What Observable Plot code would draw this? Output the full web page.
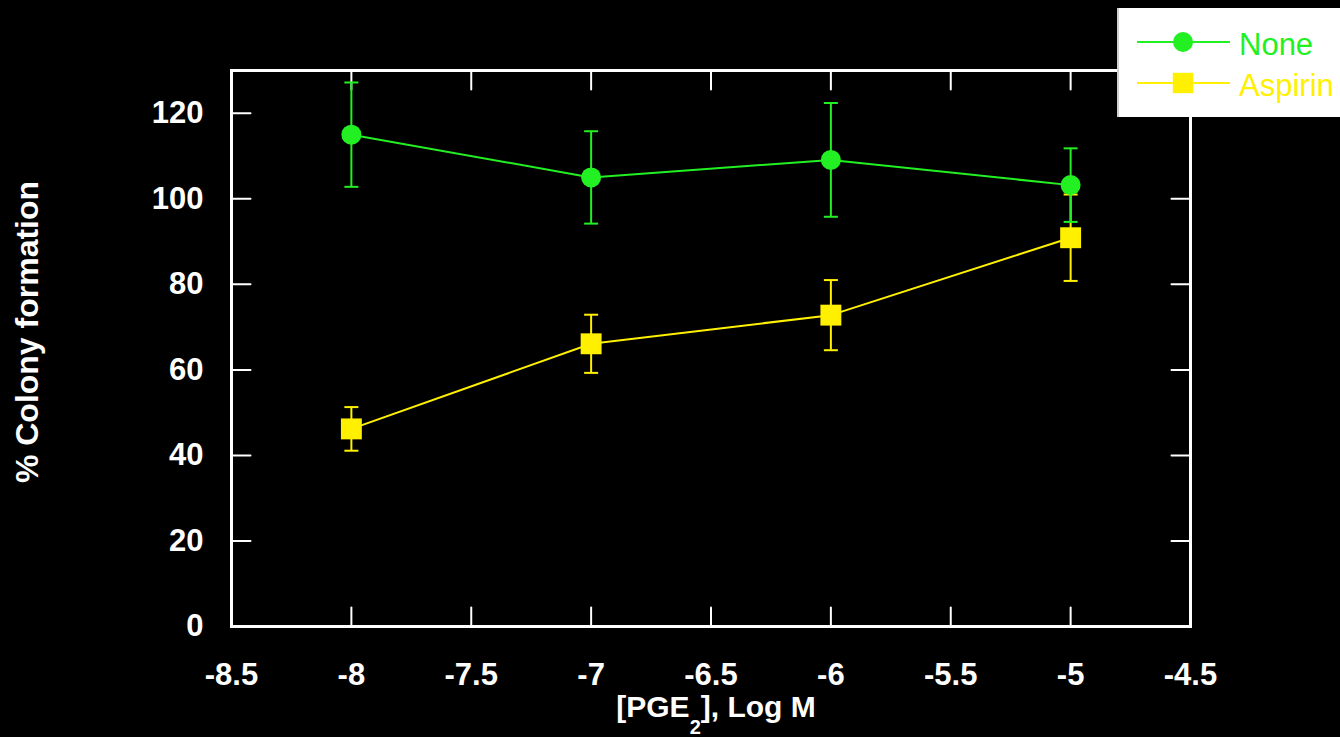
<!DOCTYPE html>
<html><head><meta charset="utf-8">
<script src="https://cdn.jsdelivr.net/npm/d3@7"></script>
<script src="https://cdn.jsdelivr.net/npm/@observablehq/plot@0.6"></script>
<style>
html,body{margin:0;padding:0;background:#000;}
#wrap{position:relative;width:1340px;height:737px;overflow:hidden;background:#000;}
#legend{position:absolute;left:1117px;top:8px;width:223px;height:109px;background:#fff;border-left:2px solid #d0d0d0;box-sizing:border-box;}
</style></head><body><div id="wrap"></div>
<script>
const doses = [-8, -7, -6, -5];
const noneMean = [115, 105, 109.1, 103.2];
const noneErr = [12.2, 10.8, 13.3, 8.6];
const aspirinMean = [46.2, 66.1, 72.8, 90.9];
const aspirinErr = [5.1, 6.8, 8.2, 10.1];
const xTicks = [-8.5, -8, -7.5, -7, -6.5, -6, -5.5, -5, -4.5];
const yTicks = [0, 20, 40, 60, 80, 100, 120];
const seriesNames = ["None", "Aspirin"];
const seriesColors = ["#22f022", "#fff000"];
const xLabelMain = "[PGE";
const xLabelSub = "2";
const xLabelRest = "], Log M";
const yLabel = "% Colony formation";

const makeRows = (name, means, errs) => doses.map((d, i) => ({series: name, x: d, y: means[i], lo: means[i] - errs[i], hi: means[i] + errs[i]}));
const noneRows = makeRows(seriesNames[0], noneMean, noneErr);
const aspRows = makeRows(seriesNames[1], aspirinMean, aspirinErr);
const green = seriesColors[0], yellow = seriesColors[1];

const capSymbol = {draw(ctx, size) { const r = Math.sqrt(size / Math.PI); ctx.moveTo(-r, 0); ctx.lineTo(r, 0); }};
const tickShape = {draw(ctx, l) { ctx.moveTo(0, 0); ctx.lineTo(0, -l); }};
const font = "'Liberation Sans', Arial, Helvetica, sans-serif";

function seriesMarks(rows, color, symbol, r) {
  return [
    Plot.line(rows, {x: "x", y: "y", stroke: color, strokeWidth: 2}),
    Plot.ruleX(rows, {x: "x", y1: "lo", y2: "hi", stroke: color, strokeWidth: 2}),
    Plot.dot(rows, {x: "x", y: "hi", symbol: capSymbol, r: 7, stroke: color, strokeWidth: 2, fill: "none"}),
    Plot.dot(rows, {x: "x", y: "lo", symbol: capSymbol, r: 7, stroke: color, strokeWidth: 2, fill: "none"}),
    Plot.dot(rows, {x: "x", y: "y", symbol, r, fill: color, stroke: "none"})
  ];
}

const chart = Plot.plot({
  width: 1340, height: 737,
  marginLeft: 231, marginRight: 150, marginTop: 70, marginBottom: 111,
  style: {background: "#000", color: "#fff", fontFamily: font, fontWeight: "bold", fontSize: "31px", overflow: "visible"},
  x: {domain: [-8.5, -4.5]},
  y: {domain: [0, 130]},
  marks: [
    Plot.frame({stroke: "#fff", strokeWidth: 3}),
    Plot.vector(xTicks, {x: d => d, frameAnchor: "bottom", anchor: "start", length: 19, rotate: 0, shape: tickShape, stroke: "#fff", strokeWidth: 2}),
    Plot.vector(xTicks, {x: d => d, frameAnchor: "top", anchor: "start", length: 19, rotate: 180, shape: tickShape, stroke: "#fff", strokeWidth: 2}),
    Plot.vector(yTicks, {y: d => d, frameAnchor: "left", anchor: "start", length: 19, rotate: 90, shape: tickShape, stroke: "#fff", strokeWidth: 2}),
    Plot.vector(yTicks, {y: d => d, frameAnchor: "right", anchor: "start", length: 19, rotate: -90, shape: tickShape, stroke: "#fff", strokeWidth: 2}),
    Plot.axisX(xTicks, {anchor: "bottom", tickSize: 0, tickPadding: 36, tickFormat: d => String(d), label: null, fontSize: 31, fill: "#fff"}),
    Plot.axisY(yTicks, {anchor: "left", tickSize: 0, tickPadding: 28, tickFormat: d => String(d), label: null, fontSize: 31, fill: "#fff"}),
    ...seriesMarks(aspRows, yellow, "square", 11.8),
    ...seriesMarks(noneRows, green, "circle", 10)
  ]
});

const svg = d3.select(chart);
const xl = svg.append("text")
  .attr("x", 716).attr("y", 717)
  .attr("text-anchor", "middle")
  .attr("fill", "#fff").attr("font-family", font).attr("font-weight", "bold").attr("font-size", 30);
xl.append("tspan").text(xLabelMain);
xl.append("tspan").attr("dy", 17).attr("font-size", 20).text(xLabelSub);
xl.append("tspan").attr("dy", -17).text(xLabelRest);

svg.append("text")
  .attr("transform", "translate(38,332) rotate(-90)")
  .attr("text-anchor", "middle")
  .attr("fill", "#fff").attr("font-family", font).attr("font-weight", "bold").attr("font-size", 32)
  .text(yLabel);

const wrap = document.getElementById("wrap");
wrap.appendChild(chart);

// legend
const leg = d3.select(wrap).append("div").attr("id", "legend");
const lsvg = leg.append("svg").attr("width", 221).attr("height", 109);
const items = [
  {name: seriesNames[0], color: green, sym: d3.symbolCircle, r: 10},
  {name: seriesNames[1], color: yellow, sym: d3.symbolSquare, r: 11.5}
];
items.forEach((it, i) => {
  const cy = 34 + i * 41;
  const g = lsvg.append("g");
  g.append("line").attr("x1", 18).attr("x2", 111).attr("y1", cy).attr("y2", cy).attr("stroke", it.color).attr("stroke-width", 2);
  g.append("path").attr("transform", `translate(64,${cy})`).attr("d", d3.symbol(it.sym, it.r * it.r * Math.PI)()).attr("fill", it.color);
  g.append("text").attr("x", 120).attr("y", cy + 13).attr("fill", it.color)
    .attr("font-family", font).attr("font-size", 31).text(it.name);
});
</script>
</body></html>
